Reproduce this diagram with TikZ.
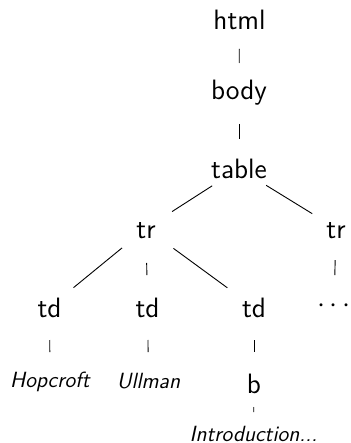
\documentclass[tikz,border=0pt]{standalone}
\usepackage{fontspec}
\begin{document}
\begin{tikzpicture}[x=0.5pt,y=-0.5pt,
  tag/.style={font=\fontsize{14}{17}\selectfont\sffamily, inner sep=0pt, outer sep=0pt, text height=9.7pt, text depth=0pt, anchor=base},
  leaf/.style={font=\fontsize{11}{13}\selectfont\sffamily\itshape, inner sep=0pt, outer sep=0pt, text height=7.6pt, text depth=0pt, anchor=base},
  more/.style={font=\fontsize{14}{17}\selectfont, inner sep=0pt, outer sep=0pt, anchor=center},
  link/.style={line width=0.45pt, black}]
\useasboundingbox (0,0) rectangle (350,443);
% nodes
\node[tag] (html)  at (239.5,30)  {html};
\node[tag] (body)  at (239,100)   {body};
\node[tag] (table) at (239,178.3) {table};
\node[tag] (tra)   at (146,238)   {tr};
\node[tag] (trb)   at (336,238)   {tr};
\node[tag] (tda)   at (49.5,317)  {td};
\node[tag] (tdb)   at (147.5,317) {td};
\node[tag] (tdc)   at (254,317)   {td};
\node[more] (dots) at (334,306)   {$\cdots$};
\node[leaf] (hop)  at (50,387)    {Hopcroft};
\node[leaf] (ull)  at (148.5,388) {Ullman};
\node[tag] (b)     at (254,393)   {b};
\node[leaf] (intro) at (253.5,441) {Introduction...};
% edges
\draw[link, shorten <=14.35pt, shorten >=13.65pt] (html.center) -- (body.center);
\draw[link, shorten <=16.85pt, shorten >=14.8pt]  (body.center) -- (table.center);
\draw[link, shorten <=15.95pt, shorten >=15.5pt]  (table.center) -- (tra.center);
\draw[link, shorten <=15.95pt, shorten >=13.95pt] (table.center) -- (trb.center);
\draw[link, shorten <=15.45pt, shorten >=15.5pt]  (tra.center) -- (tda.center);
\draw[link, shorten <=17.35pt, shorten >=16.15pt] (tra.center) -- (tdb.center);
\draw[link, shorten <=17pt, shorten >=16.5pt]     (tra.center) -- (tdc.center);
\draw[link, shorten <=15.9pt, shorten >=15.5pt]   (trb.center) -- (dots.center);
\draw[link, shorten <=16.35pt, shorten >=13.7pt]  (tda.center) -- (hop.center);
\draw[link, shorten <=16.35pt, shorten >=14.2pt]  (tdb.center) -- (ull.center);
\draw[link, shorten <=16.35pt, shorten >=15.65pt] (tdc.center) -- (b.center);
\draw[link, shorten <=11.85pt, shorten >=10.7pt]  (b.center) -- (intro.center);
\end{tikzpicture}
\end{document}
